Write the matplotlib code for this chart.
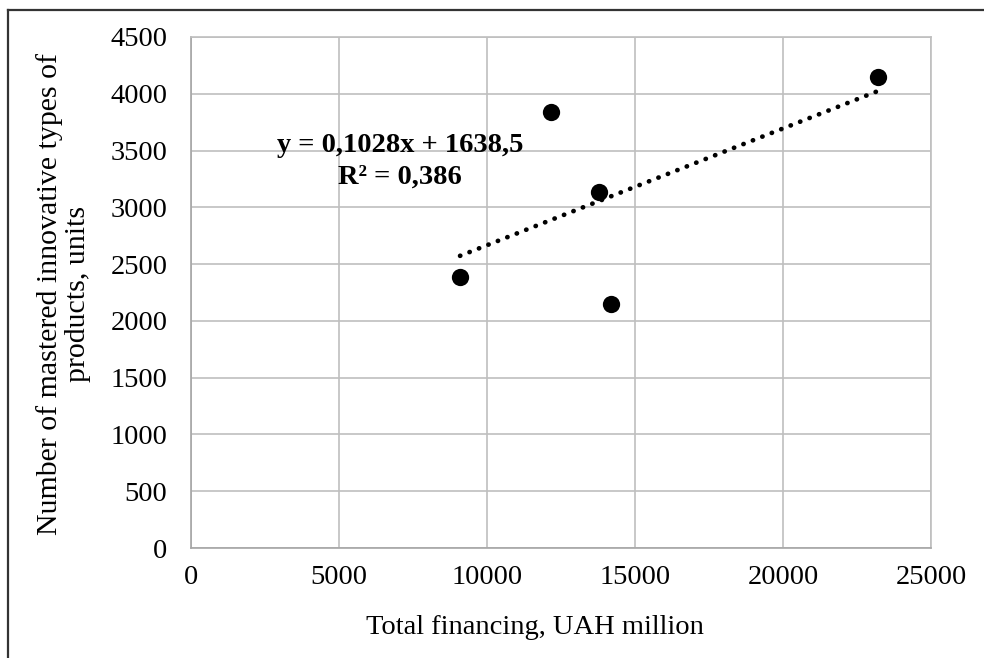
import matplotlib
matplotlib.use("Agg")
import matplotlib.pyplot as plt
from matplotlib.lines import Line2D
import numpy as np

# Data
financing = [9090, 12160, 13780, 14190, 23210]
products = [2385, 3840, 3135, 2147, 4149]
slope = 0.1028
intercept = 1638.5
eq_text = "y = 0,1028x + 1638,5\nR² = 0,386"
x_ticks = [0, 5000, 10000, 15000, 20000, 25000]
y_ticks = [0, 500, 1000, 1500, 2000, 2500, 3000, 3500, 4000, 4500]

plt.rcParams['font.family'] = ['Liberation Serif', 'DejaVu Serif']

fig = plt.figure(figsize=(9.84, 6.58), dpi=100)
ax = fig.add_axes([191/984, 1 - 548/658, (931-191)/984, (548-37)/658])

grid_c = '#BFBFBF'
ax.set_xlim(0, 25000)
ax.set_ylim(0, 4500)
ax.set_xticks(x_ticks)
ax.set_yticks(y_ticks)
ax.grid(True, color=grid_c, linewidth=1.2)
ax.set_axisbelow(True)
for s in ax.spines.values():
    s.set_color(grid_c)
    s.set_linewidth(1.2)
ax.spines['left'].set_color('#A6A6A6')
ax.spines['bottom'].set_color('#A6A6A6')
ax.tick_params(length=0, labelsize=20.5, colors='black')
ax.tick_params(axis='y', pad=17)
ax.tick_params(axis='x', pad=12)

# trendline
xs = np.array([min(financing), max(financing)])
ax.plot(xs, slope * xs + intercept, color='black', linewidth=3.4,
        linestyle=(0, (0.05, 2.1)), dash_capstyle='round', zorder=2)

ax.scatter(financing, products, s=155, color='black', zorder=3, linewidths=0)

fig.text(400/984, 1 - 161/658, eq_text, fontsize=20.5, fontweight='bold',
         ha='center', va='center', linespacing=1.35)

fig.text(535/984, 1 - 628/658, "Total financing, UAH million", fontsize=20.5,
         ha='center', va='center')
fig.text(64/984, 1 - 294/658, "Number of mastered innovative types of\nproducts, units",
         fontsize=21.5, ha='center', va='center', rotation=90, linespacing=1.1)

# outer border (left and top only visible)
fig.add_artist(Line2D([8/984, 8/984], [0, 1 - 10/658], transform=fig.transFigure,
                      color='#333333', linewidth=1.6))
fig.add_artist(Line2D([8/984, 1], [1 - 10/658, 1 - 10/658], transform=fig.transFigure,
                      color='#333333', linewidth=1.6))

fig.savefig("out.png", dpi=100)
